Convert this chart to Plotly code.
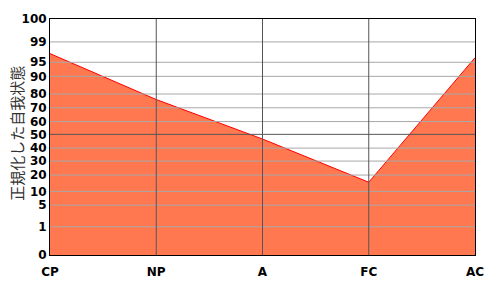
import numpy as np
import plotly.graph_objects as go

# Categories and values (percentile, normalized ego state)
categories = ["CP", "NP", "A", "FC", "AC"]
values = [96.7, 76, 46.6, 15.6, 95.9]

# Non-linear percentile scale: tick labels and their axis positions
tick_labels = [0, 1, 5, 10, 20, 30, 40, 50, 60, 70, 80, 90, 95, 99, 100]
scale_pos = [0, 28.7, 50.7, 64.7, 81.3, 95.5, 108.7, 122.7, 135.7, 149.7, 163.7, 181.7, 196, 216.7, 240]

xs = list(range(len(categories)))
ys = np.interp(values, tick_labels, scale_pos)

fig = go.Figure()
fig.add_trace(go.Scatter(
    x=xs, y=ys, mode="lines", fill="tozeroy",
    fillcolor="#FF7850", line=dict(color="#FF0000", width=1),
    hoverinfo="skip", showlegend=False,
))

shapes = []
for lab, p in zip(tick_labels, scale_pos):
    if lab in (0, 100):
        continue
    shapes.append(dict(type="line", xref="x", yref="y", x0=xs[0], x1=xs[-1], y0=p, y1=p,
                       line=dict(color="#555555" if lab == 50 else "#A8A8A8", width=1), layer="above"))
for x in xs[1:-1]:
    shapes.append(dict(type="line", xref="x", yref="y", x0=x, x1=x, y0=scale_pos[0], y1=scale_pos[-1],
                       line=dict(color="#555555", width=1), layer="above"))

font_tick = dict(family="DejaVu Sans", size=12, color="#000000", weight="bold")

fig.update_layout(
    width=500, height=300,
    margin=dict(l=50, r=25, t=15, b=45),
    paper_bgcolor="white", plot_bgcolor="white",
    shapes=shapes,
    xaxis=dict(range=[xs[0], xs[-1]], tickvals=xs, ticktext=categories, showgrid=False,
               zeroline=False, showline=True, mirror=True, linecolor="#000000", linewidth=1,
               ticks="outside", ticklen=6, tickcolor="rgba(0,0,0,0)", tickfont=font_tick),
    yaxis=dict(range=[scale_pos[0], scale_pos[-1]], tickvals=scale_pos, ticktext=[str(t) for t in tick_labels],
               showgrid=False, zeroline=False, showline=True, mirror=True, linecolor="#000000", linewidth=1,
               ticks="", tickfont=font_tick),
    annotations=[dict(text="正規化した自我状態", xref="paper", yref="paper", x=-0.078, y=0.517,
                      xanchor="center", yanchor="middle", textangle=-90, showarrow=False,
                      font=dict(family="Noto Sans CJK JP", size=15, color="#333333"))],
)

fig.write_html("out.html")
